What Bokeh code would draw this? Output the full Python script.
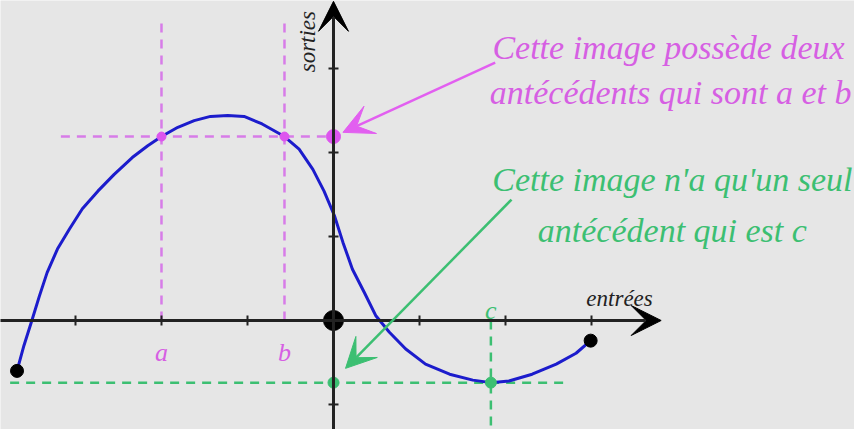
from bokeh.plotting import figure
from bokeh.models import Range1d, Arrow, VeeHead, Label, ColumnDataSource
from bokeh.embed import file_html
from bokeh.resources import INLINE
import math

# ---- data ----
curve_x = [-3.68, -3.60, -3.51, -3.42, -3.33, -3.21, -3.07, -2.92, -2.74, -2.55,
           -2.34, -2.16, -2.00, -1.81, -1.62, -1.43, -1.23, -1.04, -0.83, -0.57,
           -0.40, -0.24, -0.11, 0.01, 0.11, 0.22, 0.36, 0.49, 0.65, 0.84,
           1.07, 1.35, 1.62, 1.83, 2.04, 2.31, 2.59, 2.82, 2.99]
curve_y = [-0.60, -0.30, -0.01, 0.29, 0.57, 0.85, 1.09, 1.33, 1.54, 1.74,
           1.94, 2.08, 2.19, 2.30, 2.38, 2.43, 2.44, 2.43, 2.34, 2.19,
           2.04, 1.80, 1.54, 1.25, 0.93, 0.61, 0.33, 0.06, -0.14, -0.34,
           -0.52, -0.64, -0.71, -0.74, -0.72, -0.64, -0.52, -0.39, -0.24]
x_ticks = [-3, -2, -1, 1, 2, 3]
y_ticks = [-1, 1, 2, 3]
antecedents_two = [-2.0, -0.57]      # a, b
antecedent_labels_two = ["a", "b"]
image_two = 2.19
antecedent_one = 1.83                 # c
image_one = -0.74
endpoints_x = [curve_x[0], curve_x[-1]]
endpoints_y = [curve_y[0], curve_y[-1]]

MAG = "#d65fe3"
MAG_LINE = "#d77ce8"
GRN = "#3cbf72"
BLUE = "#1c1ccc"
BG = "#e6e6e6"
FONT = "Liberation Serif"

p = figure(width=854, height=429, output_backend="svg", toolbar_location=None,
           x_range=Range1d(-3.872, 6.058), y_range=Range1d(-1.298, 3.810),
           x_axis_location=None, y_axis_location=None, min_border=0,
           background_fill_color=BG, border_fill_color=BG, outline_line_color=None)
p.grid.visible = False

# dashed guide lines (magenta)
for xv in antecedents_two:
    p.segment(x0=xv, y0=0, x1=xv, y1=3.57, line_color=MAG_LINE, line_width=2.5, line_dash="9 7")
p.segment(x0=-3.17, y0=image_two, x1=0, y1=image_two, line_color=MAG_LINE, line_width=2.5, line_dash="9 7")
# dashed guide lines (green)
p.segment(x0=-3.76, y0=image_one, x1=2.72, y1=image_one, line_color=GRN, line_width=2.5, line_dash="9 7")
p.segment(x0=antecedent_one, y0=0, x1=antecedent_one, y1=-1.35, line_color=GRN, line_width=2.5, line_dash="9 7")

# axes
p.add_layout(Arrow(end=VeeHead(size=30, fill_color="black", line_color="black"),
                   x_start=-3.95, y_start=0, x_end=3.81, y_end=0, line_color="#222222", line_width=3))
p.add_layout(Arrow(end=VeeHead(size=30, fill_color="black", line_color="black"),
                   x_start=0, y_start=-1.35, x_end=0, y_end=3.80, line_color="#222222", line_width=3))
p.dash(x=x_ticks, y=[0] * len(x_ticks), size=10, angle=math.pi / 2, line_color="#222222", line_width=2)
p.dash(x=[0] * len(y_ticks), y=y_ticks, size=10, line_color="#222222", line_width=2)

# curve
src = ColumnDataSource(dict(x=curve_x, y=curve_y))
p.line("x", "y", source=src, line_color=BLUE, line_width=3, line_join="round")

# points
p.scatter(x=endpoints_x, y=endpoints_y, size=13, color="black")
p.scatter(x=[0], y=[0], size=20, color="black")
p.scatter(x=antecedents_two, y=[image_two] * 2, size=9, color="#dd55ee")
p.scatter(x=[0], y=[image_two], size=14, color="#dd55ee")
p.scatter(x=[0, antecedent_one], y=[image_one] * 2, size=11, color=GRN)

# annotation arrows
p.add_layout(Arrow(end=VeeHead(size=30, fill_color="#e25ff0", line_color="#e25ff0"),
                   x_start=1.88, y_start=3.07, x_end=0.11, y_end=2.24, line_color="#e25ff0", line_width=2.5))
p.add_layout(Arrow(end=VeeHead(size=30, fill_color=GRN, line_color=GRN),
                   x_start=2.07, y_start=1.44, x_end=0.14, y_end=-0.57, line_color=GRN, line_width=2.5))

# texts
def lab(x, y, t, color, size, align="center", baseline="alphabetic", angle=0.0):
    p.add_layout(Label(x=x, y=y, text=t, text_color=color, text_font=FONT,
                       text_font_style="italic", text_font_size=size,
                       text_align=align, text_baseline=baseline, angle=angle))

lab(3.895, 3.25, "Cette image possède deux", MAG, "34px")
lab(3.92, 2.714, "antécédents qui sont a et b", MAG, "34px")
lab(3.94, 1.679, "Cette image n'a qu'un seul", GRN, "34px")
lab(3.94, 1.071, "antécédent qui est c", GRN, "34px")

for xv, t in zip(antecedents_two, antecedent_labels_two):
    lab(xv, -0.38, t, MAG, "26px")
lab(antecedent_one, 0.12, "c", GRN, "26px")

lab(3.326, 0.262, "entrées", "#222222", "23px")
lab(-0.30, 3.32, "sorties", "#222222", "23px", baseline="middle", angle=math.pi / 2)

open("out.html", "w").write(file_html(p, INLINE))
